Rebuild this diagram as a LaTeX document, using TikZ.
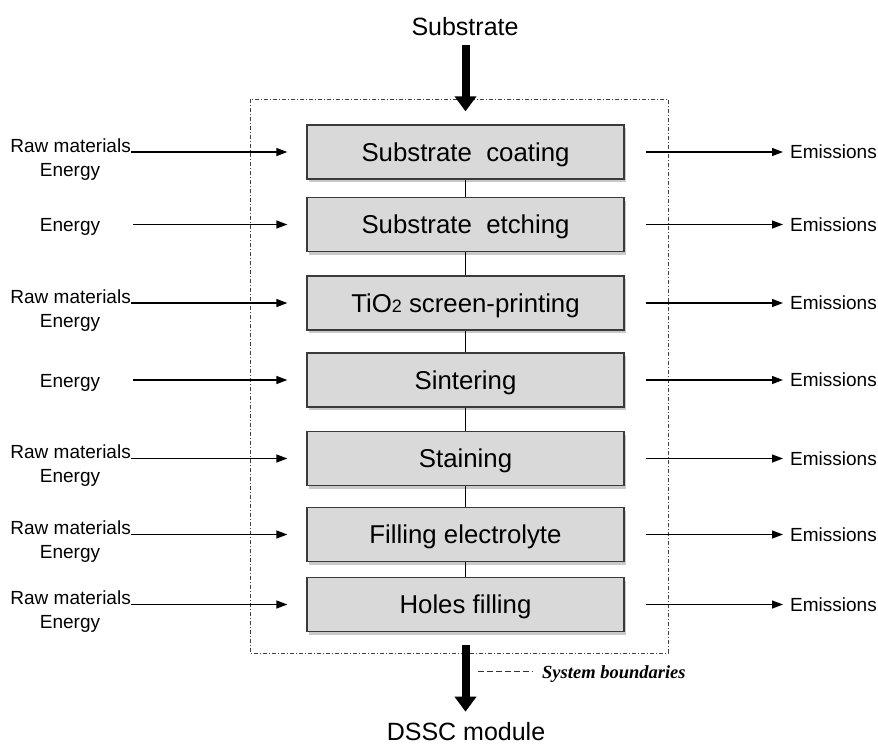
\documentclass[tikz,border=0pt]{standalone}
\usepackage{fontspec}
\setmainfont{Liberation Sans}
\newfontfamily\legendfont{Liberation Serif}
\usetikzlibrary{arrows.meta,shadows}
\definecolor{boxfill}{HTML}{D9D9D9}
\definecolor{boxline}{HTML}{3A3A3A}
\tikzset{
  stepbox/.style={draw=boxline, line width=1.3pt, fill=boxfill, minimum width=317pt, minimum height=54pt, inner sep=0pt,
    font=\fontsize{25.8}{26}\selectfont, text height=18.5pt, text depth=0pt,
    drop shadow={shadow xshift=2pt, shadow yshift=-3pt, opacity=.3, fill=black!70}},
  sidelabel/.style={inner sep=0pt, font=\fontsize{19}{19}\selectfont},
  biglabel/.style={inner sep=0pt, font=\fontsize{25}{25}\selectfont},
  inarrow/.style={line width=1.3pt, -{Triangle[length=11pt,width=8pt]}},
  link/.style={line width=1.8pt},
  fatarrow/.style={line width=8pt, -{Triangle[length=15pt,width=21pt]}},
  boundary/.style={draw=black!75, line width=0.9pt, dash pattern=on 4pt off 2pt on 1pt off 2pt},
}
\begin{document}
\begin{tikzpicture}[x=1pt,y=-1pt]
\useasboundingbox (0,0) rectangle (878,745);
% system boundary
\draw[boundary] (250,99) rectangle (668,653);
% boxes
\node[stepbox] (b1) at (465.5,152) {Substrate\ \ coating};
\node[stepbox] (b2) at (465.5,224.5) {Substrate\ \ etching};
\node[stepbox] (b3) at (465.5,303) {TiO{\fontsize{18}{18}\selectfont 2} screen-printing};
\node[stepbox] (b4) at (465.5,380) {Sintering};
\node[stepbox] (b5) at (465.5,458.5) {Staining};
\node[stepbox] (b6) at (465.5,534.5) {Filling electrolyte};
\node[stepbox] (b7) at (465.5,604.5) {Holes filling};
% vertical links
\draw[link] (b1.south) -- (b2.north);
\draw[link] (b2.south) -- (b3.north);
\draw[link] (b3.south) -- (b4.north);
\draw[link] (b4.south) -- (b5.north);
\draw[link] (b5.south) -- (b6.north);
\draw[link] (b6.south) -- (b7.north);
% top / bottom
\node[biglabel, anchor=base] (sub) at (465,35) {Substrate};
\node[biglabel, anchor=base] (dssc) at (466,740) {DSSC module};
\draw[fatarrow, shorten <=10pt, shorten >=13pt] (sub.base -| b1.north) -- (b1.north);
\draw[fatarrow, shorten <=13pt, shorten >=10pt] (b7.south) -- (b7.south |- dssc.north);
% inputs
\node[sidelabel, anchor=base east] (r1) at (131,152) {Raw materials};
\node[sidelabel, anchor=base] (e1) at (70,176) {Energy};
\draw[inarrow, shorten >=19pt] (r1.base east) -- (b1.west);
\node[sidelabel, anchor=base] (e2) at (70,231.5) {Energy};
\coordinate (s2) at (133,224.5);
\draw[inarrow, shorten >=19pt] (s2) -- (b2.west);
\node[sidelabel, anchor=base east] (r3) at (131,303) {Raw materials};
\node[sidelabel, anchor=base] (e3) at (70,327) {Energy};
\draw[inarrow, shorten >=19pt] (r3.base east) -- (b3.west);
\node[sidelabel, anchor=base] (e4) at (70,387) {Energy};
\coordinate (s4) at (133,380);
\draw[inarrow, shorten >=19pt] (s4) -- (b4.west);
\node[sidelabel, anchor=base east] (r5) at (131,458.5) {Raw materials};
\node[sidelabel, anchor=base] (e5) at (70,482.5) {Energy};
\draw[inarrow, shorten >=19pt] (r5.base east) -- (b5.west);
\node[sidelabel, anchor=base east] (r6) at (131,534.5) {Raw materials};
\node[sidelabel, anchor=base] (e6) at (70,558.5) {Energy};
\draw[inarrow, shorten >=19pt] (r6.base east) -- (b6.west);
\node[sidelabel, anchor=base east] (r7) at (131,604.5) {Raw materials};
\node[sidelabel, anchor=base] (e7) at (70,628.5) {Energy};
\draw[inarrow, shorten >=19pt] (r7.base east) -- (b7.west);
% outputs
\node[sidelabel, anchor=west] (o1) at (790,152) {Emissions};
\node[sidelabel, anchor=west] (o2) at (790,224.5) {Emissions};
\node[sidelabel, anchor=west] (o3) at (790,303) {Emissions};
\node[sidelabel, anchor=west] (o4) at (790,380) {Emissions};
\node[sidelabel, anchor=west] (o5) at (790,458.5) {Emissions};
\node[sidelabel, anchor=west] (o6) at (790,534.5) {Emissions};
\node[sidelabel, anchor=west] (o7) at (790,604.5) {Emissions};
\draw[inarrow, shorten <=21pt, shorten >=7pt] (b1.east) -- (o1.west);
\draw[inarrow, shorten <=21pt, shorten >=7pt] (b2.east) -- (o2.west);
\draw[inarrow, shorten <=21pt, shorten >=7pt] (b3.east) -- (o3.west);
\draw[inarrow, shorten <=21pt, shorten >=7pt] (b4.east) -- (o4.west);
\draw[inarrow, shorten <=21pt, shorten >=7pt] (b5.east) -- (o5.west);
\draw[inarrow, shorten <=21pt, shorten >=7pt] (b6.east) -- (o6.west);
\draw[inarrow, shorten <=21pt, shorten >=7pt] (b7.east) -- (o7.west);
% legend
\coordinate (l1) at (478,671);
\node[inner sep=0pt, anchor=base west, font=\legendfont\bfseries\itshape\fontsize{18.5}{18.5}\selectfont] (leg) at (542,678) {System boundaries};
\draw[black!80, line width=0.9pt, dash pattern=on 6pt off 3pt] (l1) -- ([xshift=-9pt]leg.west |- l1);
\end{tikzpicture}
\end{document}
